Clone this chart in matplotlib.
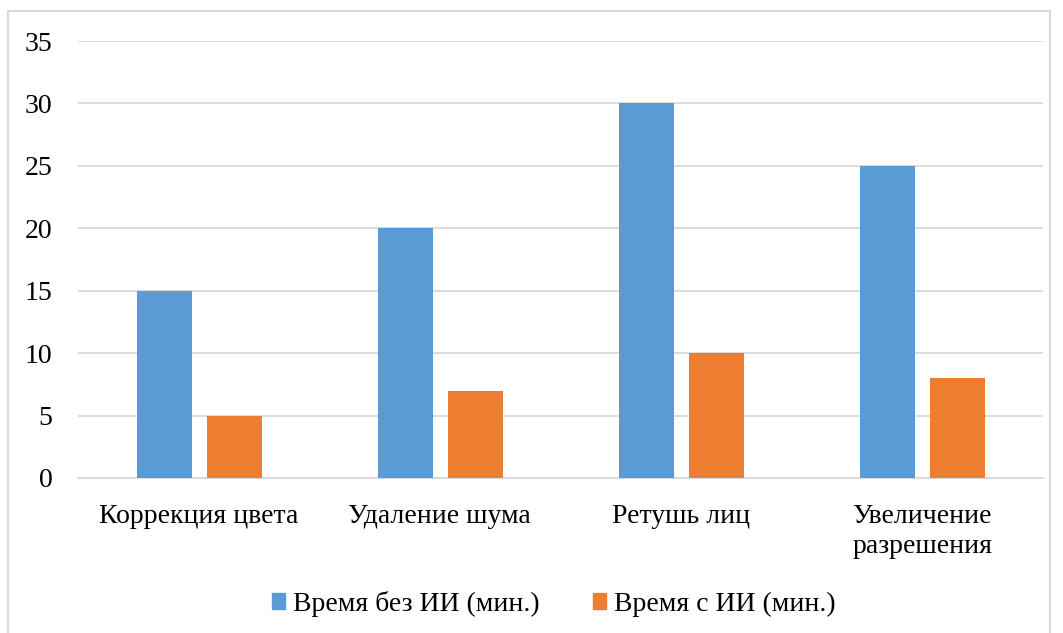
import numpy as np
import matplotlib
matplotlib.use("Agg")
import matplotlib.pyplot as plt
from matplotlib.patches import Patch, Rectangle

plt.rcParams['font.family'] = ['Liberation Serif', 'DejaVu Serif']

# task categories and processing time, minutes
categories = ['Коррекция цвета', 'Удаление шума', 'Ретушь лиц', 'Увеличение\nразрешения']
time_no_ai = [15, 20, 30, 25]
time_ai = [5, 7, 10, 8]
series_names = ['Время без ИИ (мин.)', 'Время с ИИ (мин.)']
y_ticks = [0, 5, 10, 15, 20, 25, 30, 35]

blue = '#5B9BD5'
orange = '#ED7D31'
grid_col = '#D9D9D9'
fs = 20

fig = plt.figure(figsize=(10.63, 6.33), dpi=100)
ax = fig.add_axes([0.0734, 0.2449, 0.9076, 0.6903])

x = np.arange(len(categories))
w = 0.228
ax.bar(x - 0.143, time_no_ai, w, color=blue, zorder=3)
ax.bar(x + 0.147, time_ai, w, color=orange, zorder=3)

ax.set_xlim(-0.5, len(categories) - 0.5)
ax.set_ylim(0, 35)
ax.set_yticks(y_ticks)
ax.set_xticks(x)
ax.set_xticklabels(categories, fontsize=fs, linespacing=1.25)
ax.tick_params(axis='y', labelsize=fs, length=0, pad=18.5)
ax.tick_params(axis='x', length=0, pad=19)
ax.yaxis.grid(True, color=grid_col, lw=1.3, zorder=0)
for s in ['top', 'right', 'left']:
    ax.spines[s].set_visible(False)
ax.spines['bottom'].set_color(grid_col)
ax.spines['bottom'].set_linewidth(1.3)

handles = [Patch(color=blue), Patch(color=orange)]
fig.legend(handles, series_names, loc='center', bbox_to_anchor=(0.521, 1 - 604 / 633),
           ncol=2, frameon=False, fontsize=fs, handlelength=0.47, handleheight=0.47,
           handletextpad=0.3, columnspacing=1.9)

# light frame around the chart area
fig.patches.append(Rectangle((8 / 1063, -0.02), 1042 / 1063, 1.02 - 11 / 633,
                             transform=fig.transFigure, fill=False,
                             edgecolor='#D9D9D9', lw=1.5))

fig.savefig('out.png', dpi=100)
